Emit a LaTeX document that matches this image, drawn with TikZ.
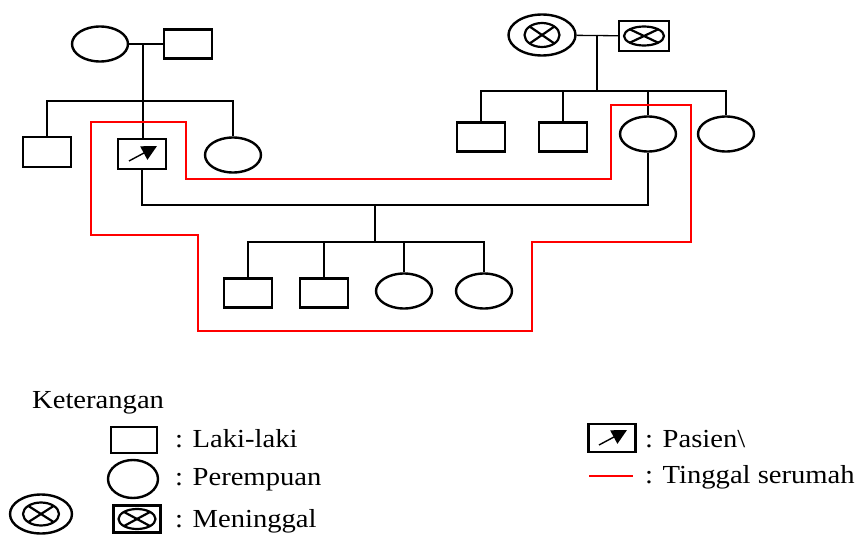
\documentclass[tikz,border=0pt]{standalone}
\usepackage{fontspec}
\setmainfont{Liberation Serif}[FakeStretch=1.1]
\usepackage{tikz}
\usetikzlibrary{shapes.geometric,arrows.meta,calc}

\begin{document}
\begin{tikzpicture}[
  x=1pt,y=-1pt,
  male/.style={draw,rectangle,line width=2.4pt,inner sep=0pt,minimum width=48pt,minimum height=29pt},
  female/.style={draw,ellipse,line width=2.4pt,inner sep=0pt,minimum width=56pt,minimum height=35pt},
  xmark/.style={draw,ellipse,line width=2.2pt,inner sep=0pt,path picture={
    \draw[line width=2.2pt] ($(path picture bounding box.center)!0.71!(path picture bounding box.north west)$) -- ($(path picture bounding box.center)!0.71!(path picture bounding box.south east)$);
    \draw[line width=2.2pt] ($(path picture bounding box.center)!0.71!(path picture bounding box.north east)$) -- ($(path picture bounding box.center)!0.71!(path picture bounding box.south west)$);}},
  pasien/.style={male,path picture={
    \draw[line width=1.4pt,-{Triangle[length=15pt,width=15pt]}] ([shift={(-13pt,-7pt)}]path picture bounding box.center) -- ([shift={(15pt,8pt)}]path picture bounding box.center);}},
  line/.style={line width=1.3pt},
  house/.style={red,line width=1.3pt},
  legtext/.style={anchor=base west,inner sep=0pt,font=\fontsize{26pt}{28pt}\selectfont}
]
  \useasboundingbox (0,0) rectangle (860,535);

  % keluarga ayah
  \node[female] (gm1) at (100,44) {};
  \node[male] (gf1) at (188,44) {};
  \node[male,minimum height=30pt] (ch1) at (47,152) {};
  \node[pasien,minimum height=30pt] (pat) at (142,154) {};
  \node[female] (aunt1) at (233,155) {};
  \coordinate (c1) at (143,44);
  \coordinate (s1) at (143,101);

  % keluarga ibu
  \node[draw,ellipse,line width=2.4pt,inner sep=0pt,minimum width=67pt,minimum height=41pt] (gm2) at (542,35) {};
  \node[xmark,minimum width=35pt,minimum height=24pt] (gm2x) at (gm2) {};
  \node[male,minimum width=50pt,minimum height=30pt] (gf2) at (644,36) {};
  \node[xmark,minimum width=40pt,minimum height=19pt] (gf2x) at (gf2) {};
  \node[male] (u1) at (481,137) {};
  \node[male] (u2) at (563,137) {};
  \node[female] (mom) at (648,134) {};
  \node[female] (aunt2) at (726,134) {};
  \coordinate (c2) at (597,35);
  \coordinate (s2) at (597,91);

  % anak
  \coordinate (m) at (375,205);
  \coordinate (s3) at (375,242);
  \node[male] (k1) at (248,293) {};
  \node[male] (k2) at (324,293) {};
  \node[female] (k3) at (404,291) {};
  \node[female] (k4) at (484,291) {};

  \draw[line] (gm1) -- (gf1);
  \draw[line] (c1) -- (c1 |- pat.north);
  \draw[line] (ch1.north) |- (s1) -| (aunt1.north);
  \draw[line] (gm2) -- (gf2);
  \draw[line] (c2) -- (s2);
  \draw[line] (u1.north) |- (s2) -| (aunt2.north);
  \draw[line] (u2.north) -- (u2.north |- s2);
  \draw[line] (mom.north) -- (mom.north |- s2);
  \draw[line] (pat.south) |- (m) -| (mom.south);
  \draw[line] (m) -- (s3);
  \draw[line] (k1.north) |- (s3) -| (k4.north);
  \draw[line] (k2.north) -- (k2.north |- s3);
  \draw[line] (k3.north) -- (k3.north |- s3);

  % tinggal serumah
  \draw[house] (91,122) -- (186,122) -- (186,179) -- (611,179) -- (611,105) -- (691,105)
    -- (691,242) -- (532,242) -- (532,331) -- (198,331) -- (198,235) -- (91,235) -- cycle;

  % keterangan
  \node[legtext] (key) at (32,408) {Keterangan};
  \node[male,minimum width=46pt,minimum height=26pt] (lm) at (134,440) {};
  \node[legtext] (lmt) at (175,447) {: Laki-laki};
  \node[female,minimum width=50pt,minimum height=38pt] (lf) at (133,479) {};
  \node[legtext] (lft) at (175,485) {: Perempuan};
  \node[draw,ellipse,line width=2.4pt,inner sep=0pt,minimum width=62pt,minimum height=39pt] (ld1) at (41,514) {};
  \node[xmark,minimum width=36pt,minimum height=23pt] (ld1x) at (ld1) {};
  \node[male,minimum width=47pt,minimum height=27pt] (ld2) at (137,519) {};
  \node[xmark,minimum width=37pt,minimum height=20pt] (ld2x) at (ld2) {};
  \node[legtext] (ldt) at (175,527) {: Meninggal};
  \node[pasien,minimum width=47pt,minimum height=28pt] (lp) at (612,438) {};
  \node[legtext] (lpt) at (645,447) {: Pasien\textbackslash};
  \coordinate (lr1) at (589,476);
  \coordinate (lr2) at (633,476);
  \draw[house] (lr1) -- (lr2);
  \node[legtext] (lrt) at (645,483) {: Tinggal serumah};
\end{tikzpicture}
\end{document}
